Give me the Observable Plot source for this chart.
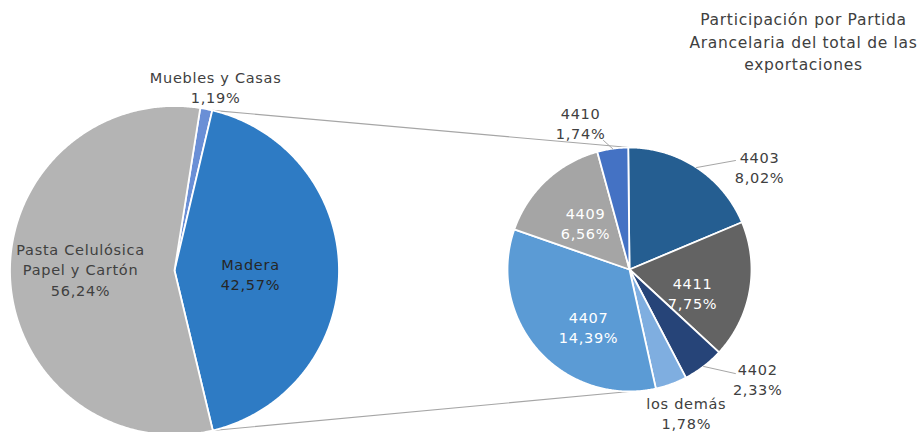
<!DOCTYPE html>
<html>
<head>
<meta charset="utf-8">
<script src="https://cdn.jsdelivr.net/npm/d3@7"></script>
<script src="https://cdn.jsdelivr.net/npm/@observablehq/plot@0.6"></script>
<style>
  body { margin: 0; background: #ffffff; }
</style>
</head>
<body>
<script>
// ---- data ----
const leftNames = ["Muebles y Casas", "Madera", "Pasta Celulósica\nPapel y Cartón"];
const leftValues = [1.19, 42.57, 56.24];
const rightNames = ["4403", "4411", "4402", "los demás", "4407", "4409", "4410"];
const rightValues = [8.02, 7.75, 2.33, 1.78, 14.39, 6.56, 1.74];
const titleText = "Participación por Partida\nArancelaria del total de las\nexportaciones";

// ---- styles / layout ----
const leftColors = ["#6A8FD6", "#2E7BC4", "#B4B4B4"];
const rightColors = ["#255E91", "#636363", "#264478", "#7FAEE0", "#5B9BD5", "#A5A5A5", "#4472C4"];
const leftTextColors = ["#404040", "#262626", "#404040"];
const rightTextColors = ["#404040", "#ffffff", "#404040", "#404040", "#ffffff", "#ffffff", "#404040"];
const L = {cx: 174, cy: 270, r: 164.5, start: 9};
const R = {cx: 629, cy: 269, r: 122, start: -0.6};
// label placement, polar [angle deg, radius factor]
const leftLabelPolar = [[12.6, 1.146], [92.3, 0.462], [271.2, 0.571]];
const rightLabelPolar = [[51.6, 1.36], [110.1, 0.55], [130.4, 1.38], [158.3, 1.26], [215.7, 0.575], [316.9, 0.528], [341.6, 1.27]];
// leader line end (polar) for labels that have one (index -> [angle, factor])
const rightLeaders = {0: [44.2, 1.246], 2: [134.5, 1.217], 6: [348.6, 1.079]};

const fmt = v => v.toFixed(2).replace(".", ",") + "%";
function polar(P, deg, f) {
  const a = deg * Math.PI / 180;
  return [P.cx + P.r * f * Math.sin(a), P.cy - P.r * f * Math.cos(a)];
}
function slices(P, values, colors, prefix) {
  const total = d3.sum(values);
  let a = P.start;
  const pts = [], mids = [], bounds = [];
  values.forEach((v, i) => {
    const a0 = a, a1 = a + v / total * 360; a = a1;
    bounds.push([a0, a1]);
    mids.push((a0 + a1) / 2);
    const k = prefix + i;
    pts.push({k, x: P.cx, y: P.cy, c: colors[i]});
    const n = Math.max(2, Math.ceil((a1 - a0) / 0.5));
    for (let j = 0; j <= n; j++) {
      const [x, y] = polar(P, a0 + (a1 - a0) * j / n, 1);
      pts.push({k, x, y, c: colors[i]});
    }
    pts.push({k, x: P.cx, y: P.cy, c: colors[i]});
  });
  return {pts, mids, bounds};
}

const left = slices(L, leftValues, leftColors, "L");
const right = slices(R, rightValues, rightColors, "R");

// connectors between the pies (Madera slice edges -> top/bottom of right pie)
const madera = left.bounds[1];
const conn = [];
{
  const [x0, y0] = polar(L, madera[0], 1), [x1, y1] = polar(R, 0, 1);
  conn.push({k: "top", x: x0, y: y0}, {k: "top", x: x1, y: y1});
  const [x2, y2] = polar(L, madera[1], 1), [x3, y3] = polar(R, 180, 1);
  conn.push({k: "bot", x: x2, y: y2}, {k: "bot", x: x3, y: y3});
}
// leader lines
const leaders = [];
Object.entries(rightLeaders).forEach(([i, [ang, f]]) => {
  const [x0, y0] = polar(R, right.mids[+i], 1);
  const [x1, y1] = polar(R, ang, f);
  leaders.push({k: i, x: x0, y: y0}, {k: i, x: x1, y: y1});
});

const labels = [];
leftNames.forEach((n, i) => {
  const [x, y] = polar(L, ...leftLabelPolar[i]);
  labels.push({x, y, t: n + "\n" + fmt(leftValues[i]), c: leftTextColors[i]});
});
rightNames.forEach((n, i) => {
  const [x, y] = polar(R, ...rightLabelPolar[i]);
  labels.push({x, y, t: n + "\n" + fmt(rightValues[i]), c: rightTextColors[i]});
});

const chart = Plot.plot({
  width: 917,
  height: 432,
  margin: 0,
  x: {domain: [0, 917], range: [0, 917], axis: null},
  y: {domain: [0, 432], range: [0, 432], axis: null},
  color: {type: "identity"},
  style: {fontFamily: "'DejaVu Sans', sans-serif", letterSpacing: "0.7px", background: "#ffffff"},
  marks: [
    Plot.line(conn, {x: "x", y: "y", z: "k", stroke: "#A6A6A6", strokeWidth: 1.1}),
    Plot.line(left.pts, {x: "x", y: "y", z: "k", fill: "c", stroke: "#ffffff", strokeWidth: 1.8, strokeLinejoin: "round", curve: "linear"}),
    Plot.line(right.pts, {x: "x", y: "y", z: "k", fill: "c", stroke: "#ffffff", strokeWidth: 1.8, strokeLinejoin: "round", curve: "linear"}),
    Plot.line(leaders, {x: "x", y: "y", z: "k", stroke: "#A6A6A6", strokeWidth: 1}),
    Plot.text(labels, {x: "x", y: "y", text: "t", fill: "c", fontSize: 14.5, lineHeight: 1.42, textAnchor: "middle"}),
    Plot.text([titleText], {x: () => 803, y: () => 40, text: d => d, fill: "#404040", fontSize: 15.5, lineHeight: 1.45, textAnchor: "middle"})
  ]
});
document.body.append(chart);
</script>
</body>
</html>
